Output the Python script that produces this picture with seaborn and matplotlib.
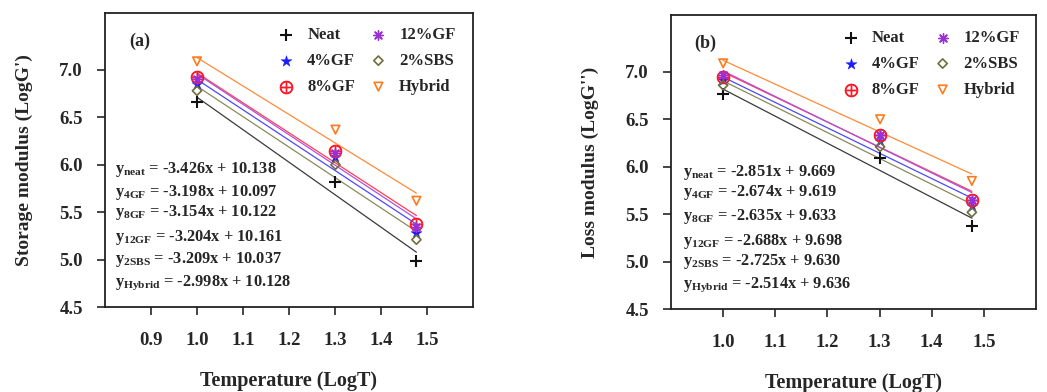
import numpy as np
import pandas as pd
import matplotlib
matplotlib.use("Agg")
import matplotlib.pyplot as plt
from matplotlib.ticker import FormatStrFormatter
import seaborn as sns

# ---------------- data ----------------
series = ["Neat", "4%GF", "8%GF", "12%GF", "2%SBS", "Hybrid"]
log_t = [1.0, 1.301, 1.477]

storage_neat = [6.66, 5.82, 4.98]
storage_gf4 = [6.85, 6.08, 5.28]
storage_gf8 = [6.92, 6.15, 5.37]
storage_gf12 = [6.90, 6.12, 5.34]
storage_sbs2 = [6.78, 6.00, 5.21]
storage_hybrid = [7.09, 6.37, 5.62]

loss_neat = [6.77, 6.09, 5.37]
loss_gf4 = [6.91, 6.27, 5.59]
loss_gf8 = [6.95, 6.33, 5.65]
loss_gf12 = [6.97, 6.33, 5.65]
loss_sbs2 = [6.86, 6.21, 5.52]
loss_hybrid = [7.09, 6.50, 5.85]

storage_slopes = [-3.426, -3.198, -3.154, -3.204, -3.209, -2.998]
storage_intercepts = [10.138, 10.097, 10.122, 10.161, 10.037, 10.128]
loss_slopes = [-2.851, -2.674, -2.635, -2.688, -2.725, -2.514]
loss_intercepts = [9.669, 9.619, 9.633, 9.698, 9.630, 9.636]

eq_subscripts = ["neat", "4GF", "8GF", "12GF", "2SBS", "Hybrid"]
storage_eq_text = ["-3.426x + 10.138", "-3.198x + 10.097", "-3.154x + 10.122",
                   "-3.204x + 10.161", "-3.209x + 10.037", "-2.998x + 10.128"]
loss_eq_text = ["-2.851x + 9.669", "-2.674x + 9.619", "-2.635x + 9.633",
                "-2.688x + 9.698", "-2.725x + 9.630", "-2.514x + 9.636"]

x_ticks_a = [0.9, 1.0, 1.1, 1.2, 1.3, 1.4, 1.5]
x_ticks_b = [1.0, 1.1, 1.2, 1.3, 1.4, 1.5]
y_ticks = [4.5, 5.0, 5.5, 6.0, 6.5, 7.0]

# ---------------- styles ----------------
sns.set_style("ticks")
plt.rcParams["font.family"] = ["Liberation Serif", "DejaVu Serif"]
plt.rcParams["font.weight"] = "bold"
plt.rcParams["axes.labelweight"] = "bold"
plt.rcParams["mathtext.fontset"] = "custom"
plt.rcParams["mathtext.rm"] = "Liberation Serif:bold"
plt.rcParams["mathtext.bf"] = "Liberation Serif:bold"

colors = ["#111111", "#1a1aff", "#ff1a2a", "#9b2fd6", "#6e6e3c", "#ff7a1a"]
line_colors = ["#3a3a3a", "#4a4aff", "#ff4050", "#b050e0", "#8a8a5a", "#ff8a3a"]
markers = ["+", "*", r"$\oplus$", (8, 2, 0), "D", "v"]
sizes = [70, 70, 80, 48, 22, 38]
hollow = [False, False, False, False, True, True]


def make_df(vals):
    rows = []
    for name, v in zip(series, vals):
        for x, y in zip(log_t, v):
            rows.append({"series": name, "logT": x, "value": y})
    return pd.DataFrame(rows)


storage_df = make_df([storage_neat, storage_gf4, storage_gf8,
                      storage_gf12, storage_sbs2, storage_hybrid])
loss_df = make_df([loss_neat, loss_gf4, loss_gf8,
                   loss_gf12, loss_sbs2, loss_hybrid])

fig = plt.figure(figsize=(10.47, 3.92), dpi=100)
W, H = 1047, 392
ax_a = fig.add_axes([105 / W, 1 - 307 / H, 368 / W, 294 / H])
ax_b = fig.add_axes([671 / W, 1 - 309 / H, 365 / W, 294 / H])


def draw(ax, df, slopes, intercepts, eq_texts, xlim, xticks, ylabel, tag,
         eq_x, eq_ys, leg_anchor):
    fit_x = np.array([log_t[0], log_t[-1]])
    for i, name in enumerate(series):
        fit_df = pd.DataFrame({"logT": fit_x,
                               "value": slopes[i] * fit_x + intercepts[i]})
        sns.lineplot(data=fit_df, x="logT", y="value", ax=ax,
                     color=line_colors[i], lw=0.9, legend=False, zorder=2)
    for i, name in enumerate(series):
        sub = df[df["series"] == name]
        kw = dict(marker=markers[i], s=sizes[i], color=colors[i], zorder=3)
        if hollow[i]:
            kw.update(facecolor="none", edgecolor=colors[i], linewidth=1.2)
        elif isinstance(markers[i], str) and markers[i].startswith("$"):
            kw.update(edgecolor=colors[i], linewidth=0.9)
        elif markers[i] == "*":
            kw.update(edgecolor=colors[i], linewidth=0.3)
        elif markers[i] == "+":
            kw.update(linewidth=1.5)
        else:
            kw.update(linewidth=1.0)
        sns.scatterplot(data=sub, x="logT", y="value", ax=ax, label=name, **kw)

    ax.set_xlim(*xlim)
    ax.set_ylim(4.5, 7.6)
    ax.set_xticks(xticks)
    ax.set_yticks(y_ticks)
    ax.xaxis.set_major_formatter(FormatStrFormatter("%.1f"))
    ax.yaxis.set_major_formatter(FormatStrFormatter("%.1f"))
    ax.tick_params(axis="x", direction="out", length=6, width=1.2,
                   pad=12, labelsize=13.5)
    ax.tick_params(axis="y", direction="out", length=6, width=1.2,
                   pad=10, labelsize=13.5)
    for lab in ax.get_xticklabels() + ax.get_yticklabels():
        lab.set_fontweight("bold")
    for sp in ax.spines.values():
        sp.set_visible(True)
        sp.set_linewidth(1.3)
        sp.set_color("#222222")
    ax.set_xlabel("Temperature (LogT)", fontsize=14.5, fontweight="bold")
    ax.set_ylabel(ylabel, fontsize=14, fontweight="bold")
    ax.xaxis.set_label_coords(0.5, -0.218)
    ax.yaxis.set_label_coords(-0.196, 0.5)

    ax.text(tag[1], tag[2], tag[0], transform=ax.transAxes, fontsize=13,
            fontweight="bold", va="center", ha="left")
    for sub_txt, eq, yy in zip(eq_subscripts, eq_texts, eq_ys):
        ax.text(eq_x, yy, r"$\mathregular{y_{%s}}$ = %s" % (sub_txt, eq),
                transform=ax.transAxes, fontsize=11.8, fontweight="bold",
                va="center", ha="left")

    ax.legend(ncol=2, frameon=False, loc="upper left",
              bbox_to_anchor=leg_anchor, prop={"size": 12, "weight": "bold"},
              handlelength=1.0, handletextpad=0.75, columnspacing=0.9,
              labelspacing=0.6, borderpad=0.4, borderaxespad=0)


draw(ax_a, storage_df, storage_slopes, storage_intercepts, storage_eq_text,
     (0.8, 1.6), x_ticks_a, "Storage modulus (LogG')", ("(a)", 0.065, 0.905),
     0.027, [0.466, 0.391, 0.320, 0.235, 0.160, 0.082], (0.452, 0.975))
draw(ax_b, loss_df, loss_slopes, loss_intercepts, loss_eq_text,
     (0.9, 1.6), x_ticks_b, "Loss modulus (LogG'')", ("(b)", 0.063, 0.905),
     0.033, [0.463, 0.395, 0.313, 0.231, 0.160, 0.082], (0.451, 0.972))

fig.savefig("out.png", dpi=100)
